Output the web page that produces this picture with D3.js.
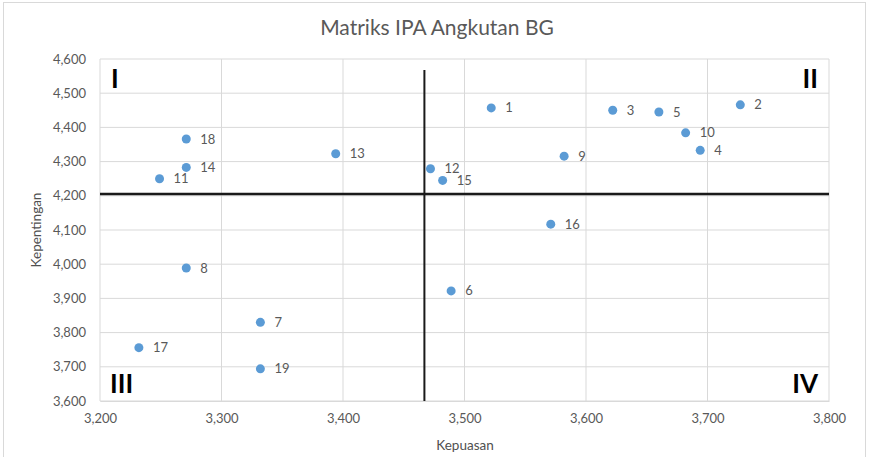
<!DOCTYPE html>
<html>
<head>
<meta charset="utf-8">
<script src="https://cdn.jsdelivr.net/npm/d3@7"></script>
<style>
  body { margin: 0; background: #fff; }
  text { font-family: Lato, "Open Sans", sans-serif; }
</style>
</head>
<body>
<div id="chart"></div>
<script>
// data
var labels = ["1", "2", "3", "4", "5", "6", "7", "8", "9", "10",
              "11", "12", "13", "14", "15", "16", "17", "18", "19"];
var kepuasan = [3522, 3727, 3622, 3694, 3660, 3489, 3332, 3271, 3582, 3682,
                3249, 3472, 3394, 3271, 3482, 3571, 3232, 3271, 3332];
var kepentingan = [4457, 4466, 4450, 4333, 4445, 3922, 3830, 3989, 4316, 4384,
                   4250, 4279, 4323, 4283, 4245, 4117, 3756, 4366, 3694];
var xTicks = [3200, 3300, 3400, 3500, 3600, 3700, 3800];
var yTicks = [3600, 3700, 3800, 3900, 4000, 4100, 4200, 4300, 4400, 4500, 4600];
var meanX = 3467;
var meanY = 4205;
var quadrants = ["I", "II", "III", "IV"];

var svgWidth = 872;
var svgHeight = 457;

var svg = d3.select("#chart")
  .append("svg")
  .attr("width", svgWidth)
  .attr("height", svgHeight);

// outer chart border
svg.append("rect")
  .attr("x", 3.5)
  .attr("y", 2.5)
  .attr("width", 862)
  .attr("height", 460)
  .attr("fill", "none")
  .attr("stroke", "#d9d9d9");

var xScale = d3.scaleLinear()
  .domain([3200, 3800])
  .range([100, 829]);

var yScale = d3.scaleLinear()
  .domain([3600, 4600])
  .range([401, 59]);

var fmt = d3.format(",");

// grid
svg.append("g")
  .selectAll("line")
  .data(xTicks)
  .enter()
  .append("line")
  .attr("x1", d => xScale(d))
  .attr("x2", d => xScale(d))
  .attr("y1", yScale(4600))
  .attr("y2", yScale(3600))
  .attr("stroke", "#d9d9d9");

svg.append("g")
  .selectAll("line")
  .data(yTicks)
  .enter()
  .append("line")
  .attr("x1", xScale(3200))
  .attr("x2", xScale(3800))
  .attr("y1", d => yScale(d))
  .attr("y2", d => yScale(d))
  .attr("stroke", "#d9d9d9");

// axes (labels only, Excel style)
var bottomAxis = d3.axisBottom(xScale).tickValues(xTicks).tickFormat(fmt).tickSize(0).tickPadding(13);
var leftAxis = d3.axisLeft(yScale).tickValues(yTicks).tickFormat(fmt).tickSize(0).tickPadding(14);

var gx = svg.append("g")
  .attr("transform", "translate(0," + yScale(3600) + ")")
  .call(bottomAxis);
gx.select(".domain").attr("stroke", "#d9d9d9");
gx.selectAll("text").attr("fill", "#595959").style("font-size", "13px");

var gy = svg.append("g")
  .attr("transform", "translate(" + xScale(3200) + ",0)")
  .call(leftAxis);
gy.select(".domain").remove();
gy.selectAll("text").attr("fill", "#595959").style("font-size", "13px");

// mean lines
svg.append("line")
  .attr("x1", xScale(meanX))
  .attr("x2", xScale(meanX))
  .attr("y1", 70)
  .attr("y2", yScale(3600))
  .attr("stroke", "#1a1a1a")
  .attr("stroke-width", 2);

svg.append("line")
  .attr("x1", xScale(3200))
  .attr("x2", xScale(3800))
  .attr("y1", yScale(meanY))
  .attr("y2", yScale(meanY))
  .attr("stroke", "#1a1a1a")
  .attr("stroke-width", 2.5);

// points
var idx = d3.range(labels.length);

svg.append("g")
  .selectAll("circle")
  .data(idx)
  .enter()
  .append("circle")
  .attr("cx", i => xScale(kepuasan[i]))
  .attr("cy", i => yScale(kepentingan[i]))
  .attr("r", 4.5)
  .attr("fill", "#5b9bd5");

svg.append("g")
  .selectAll("text")
  .data(idx)
  .enter()
  .append("text")
  .attr("x", i => xScale(kepuasan[i]) + 14)
  .attr("y", i => yScale(kepentingan[i]))
  .attr("dy", "0.35em")
  .attr("fill", "#595959")
  .style("font-size", "13px")
  .text(i => labels[i]);

// quadrant labels
var qPos = [
  { x: 111, y: 88, anchor: "start" },
  { x: 818, y: 88, anchor: "end" },
  { x: 110, y: 393, anchor: "start" },
  { x: 818, y: 393, anchor: "end" }
];
svg.append("g")
  .selectAll("text")
  .data(quadrants)
  .enter()
  .append("text")
  .attr("x", (d, i) => qPos[i].x)
  .attr("y", (d, i) => qPos[i].y)
  .attr("text-anchor", (d, i) => qPos[i].anchor)
  .style("font-size", "26px")
  .style("font-weight", "bold")
  .attr("fill", "#000")
  .text(d => d);

// titles
svg.append("text")
  .attr("x", 437)
  .attr("y", 35)
  .attr("text-anchor", "middle")
  .attr("fill", "#595959")
  .style("font-size", "21px")
  .text("Matriks IPA Angkutan BG");

svg.append("text")
  .attr("x", 465)
  .attr("y", 450)
  .attr("text-anchor", "middle")
  .attr("fill", "#505050")
  .style("font-size", "13.5px")
  .text("Kepuasan");

svg.append("text")
  .attr("transform", "translate(41,230) rotate(-90)")
  .attr("text-anchor", "middle")
  .attr("fill", "#505050")
  .style("font-size", "13.5px")
  .text("Kepentingan");
</script>
</body>
</html>
